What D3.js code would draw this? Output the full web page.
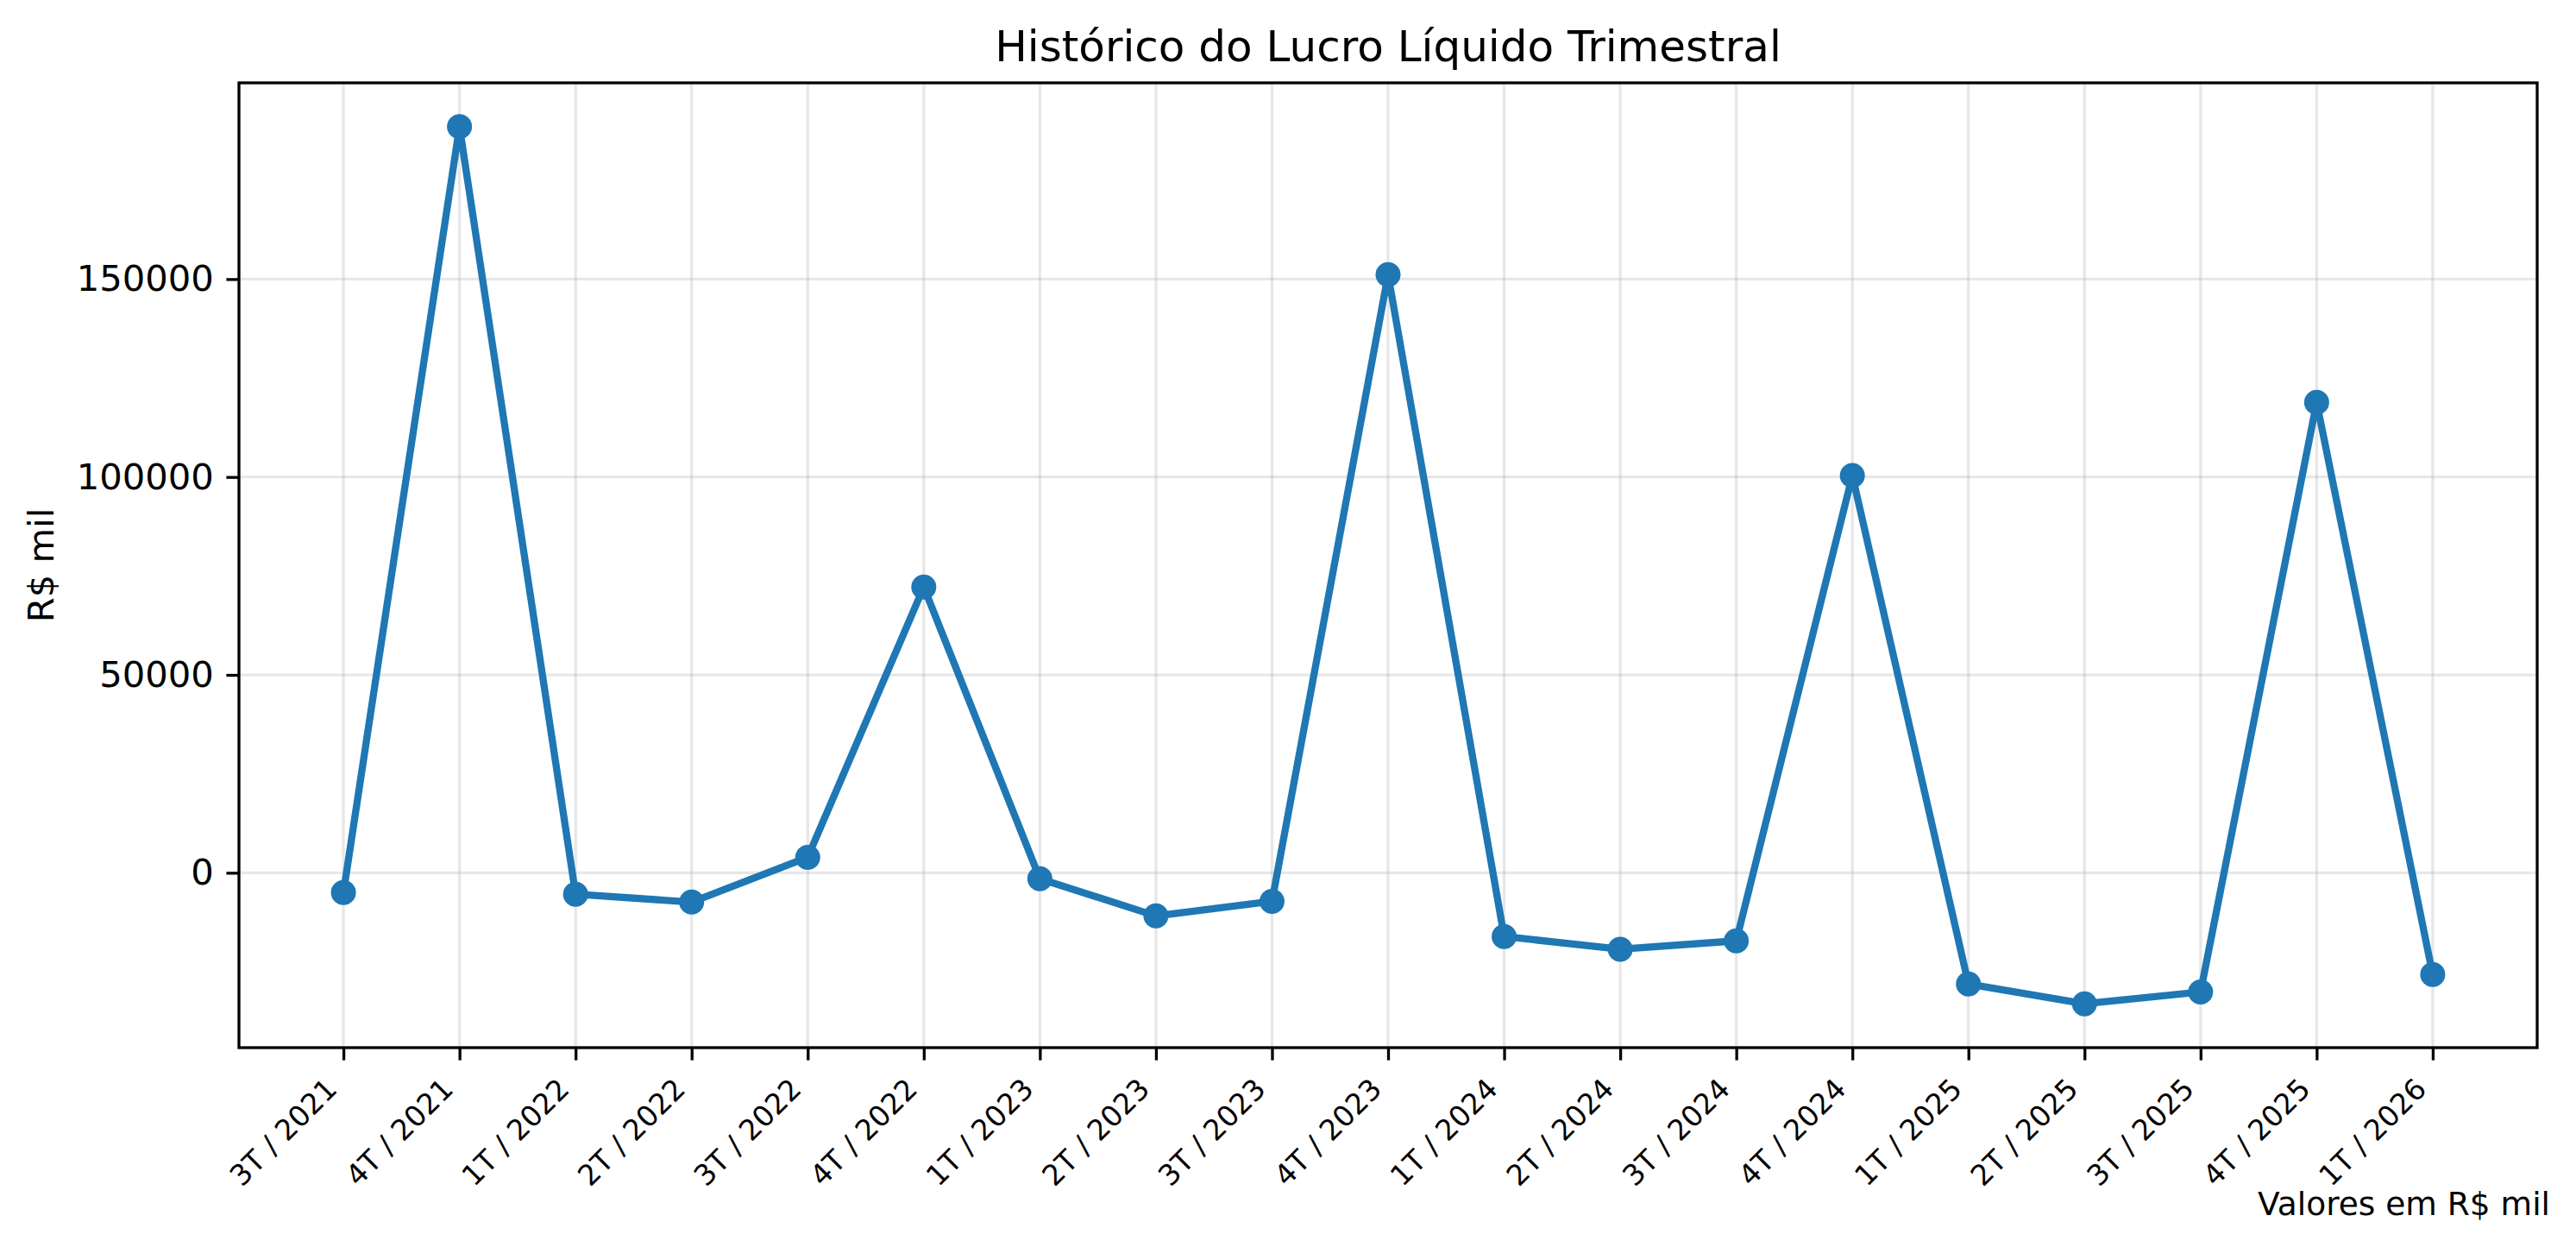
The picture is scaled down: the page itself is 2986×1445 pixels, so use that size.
<!DOCTYPE html>
<html>
<head>
<meta charset="utf-8">
<script src="https://cdn.jsdelivr.net/npm/d3@7"></script>
<style>
  html, body { margin: 0; padding: 0; background: #fff; }
  svg { display: block; font-family: "DejaVu Sans", sans-serif; }
</style>
</head>
<body>
<svg id="chart" width="2986" height="1445"></svg>
<script>
// ---- data ----
const categories = ["3T / 2021", "4T / 2021", "1T / 2022", "2T / 2022", "3T / 2022", "4T / 2022",
  "1T / 2023", "2T / 2023", "3T / 2023", "4T / 2023", "1T / 2024", "2T / 2024", "3T / 2024",
  "4T / 2024", "1T / 2025", "2T / 2025", "3T / 2025", "4T / 2025", "1T / 2026"];
const lucro = [-5000, 188500, -5400, -7400, 3900, 72200, -1500, -10900, -7200, 151100,
  -16100, -19300, -17200, 100350, -28100, -33100, -30100, 118850, -25700];
const yTicks = [0, 50000, 100000, 150000];
const title = "Histórico do Lucro Líquido Trimestral";
const yLabel = "R$ mil";
const note = "Valores em R$ mil";

// ---- layout ----
const W = 2986, H = 1445;
const m = { left: 277, right: 2941, top: 96, bottom: 1214 };
const svg = d3.select("#chart");
const blue = "#1f77b4";

const x = d3.scalePoint().domain(categories).range([m.left, m.right]).padding(0.9);
const ymin = d3.min(lucro), ymax = d3.max(lucro), pad = (ymax - ymin) * 0.05;
const y = d3.scaleLinear().domain([ymin - pad, ymax + pad]).range([m.bottom, m.top]);

// grid
const grid = svg.append("g");
grid.selectAll("line.vg").data(categories).join("line")
  .attr("x1", d => x(d)).attr("x2", d => x(d))
  .attr("y1", m.top).attr("y2", m.bottom)
  .attr("stroke", "#b0b0b0").attr("stroke-opacity", 0.3).attr("stroke-width", 3.3);
grid.selectAll("line.hg").data(yTicks).join("line")
  .attr("x1", m.left).attr("x2", m.right)
  .attr("y1", d => y(d)).attr("y2", d => y(d))
  .attr("stroke", "#b0b0b0").attr("stroke-opacity", 0.3).attr("stroke-width", 3.3);

// line + markers
const data = categories.map((c, i) => ({ c, v: lucro[i] }));
svg.append("path").datum(data)
  .attr("fill", "none").attr("stroke", blue).attr("stroke-width", 8.3)
  .attr("stroke-linejoin", "round").attr("stroke-linecap", "butt")
  .attr("d", d3.line().x(d => x(d.c)).y(d => y(d.v)));
svg.append("g").selectAll("circle").data(data).join("circle")
  .attr("cx", d => x(d.c)).attr("cy", d => y(d.v)).attr("r", 14.5)
  .attr("fill", blue);

// axes
const yAxis = d3.axisLeft(y).tickValues(yTicks).tickFormat(d3.format("d")).tickSize(14.6).tickPadding(14.6);
const gy = svg.append("g").attr("transform", `translate(${m.left},0)`).call(yAxis);
gy.select(".domain").remove();
gy.selectAll(".tick line").attr("stroke", "#000").attr("stroke-width", 3.3);
gy.selectAll(".tick text").attr("font-size", 41.7).attr("fill", "#000")
  .attr("font-family", "DejaVu Sans");

const xAxis = d3.axisBottom(x).tickSize(14.6).tickPadding(14.6);
const gx = svg.append("g").attr("transform", `translate(0,${m.bottom})`).call(xAxis);
gx.select(".domain").remove();
gx.selectAll(".tick line").attr("stroke", "#000").attr("stroke-width", 3.3);
gx.selectAll(".tick text")
  .attr("font-size", 33.3).attr("fill", "#000").attr("font-family", "DejaVu Sans")
  .attr("text-anchor", "end").attr("dy", null).attr("y", 0)
  .attr("transform", "translate(-6,50) rotate(-45)");

// frame
svg.append("rect").attr("x", m.left).attr("y", m.top)
  .attr("width", m.right - m.left).attr("height", m.bottom - m.top)
  .attr("fill", "none").attr("stroke", "#000").attr("stroke-width", 3.3);

// title & labels
svg.append("text").attr("x", (m.left + m.right) / 2).attr("y", 71)
  .attr("text-anchor", "middle").attr("font-size", 50).attr("fill", "#000").text(title);
svg.append("text").attr("transform", `translate(62,${(m.top + m.bottom) / 2}) rotate(-90)`)
  .attr("text-anchor", "middle").attr("font-size", 41.7).attr("fill", "#000").text(yLabel);
svg.append("text").attr("x", 2956).attr("y", 1408)
  .attr("text-anchor", "end").attr("font-size", 37.5).attr("fill", "#000").text(note);
</script>
</body>
</html>
